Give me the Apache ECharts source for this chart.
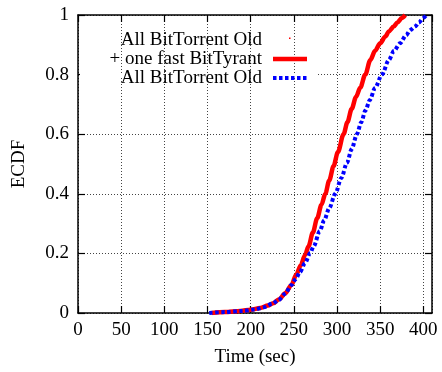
<!DOCTYPE html>
<html>
<head>
<meta charset="utf-8">
<script src="https://cdn.jsdelivr.net/npm/echarts@6/dist/echarts.min.js"></script>
<style>
html,body{margin:0;padding:0;background:#fff;}
#chart{width:442px;height:372px;}
</style>
</head>
<body>
<div id="chart"></div>
<script>
// Tick labels
const xTicks = [0, 50, 100, 150, 200, 250, 300, 350, 400];
const yTicks = [0, 0.2, 0.4, 0.6, 0.8, 1];

// Legend labels
const legendLabels = ["All BitTorrent Old", "+ one fast BitTyrant", "All BitTorrent Old"];

// Series: All BitTorrent Old + one fast BitTyrant (red)
const tyrantTime = [155, 170, 188, 200, 211, 220, 226, 233, 240, 247, 253, 258, 263, 267, 272, 277, 282, 286.4, 291, 296, 301, 307.6, 312, 317, 322, 327, 332.7, 338.6, 344, 350, 356, 360, 365.6, 370, 375, 379];
const tyrantEcdf = [0, 0.003, 0.007, 0.011, 0.017, 0.025, 0.033, 0.046, 0.066, 0.093, 0.13, 0.16, 0.195, 0.224, 0.27, 0.318, 0.363, 0.4, 0.445, 0.493, 0.54, 0.6, 0.64, 0.685, 0.725, 0.757, 0.8, 0.849, 0.88, 0.905, 0.928, 0.945, 0.961, 0.975, 0.99, 1.0];

// Series: All BitTorrent Old (blue)
const oldTime = [152, 170, 190, 205, 215, 225, 232, 240, 247, 252, 257, 263, 269, 273, 280, 285, 291, 298, 305, 311.5, 317, 323, 328, 333, 338, 344, 352, 360, 366, 373, 380, 385, 390.7, 395, 400, 403.5];
const oldEcdf = [0, 0.003, 0.007, 0.012, 0.019, 0.031, 0.043, 0.065, 0.093, 0.113, 0.137, 0.168, 0.202, 0.224, 0.275, 0.31, 0.352, 0.4, 0.453, 0.504, 0.55, 0.6, 0.64, 0.68, 0.715, 0.755, 0.8, 0.849, 0.88, 0.905, 0.932, 0.95, 0.962, 0.975, 0.99, 1.0];

const FONT = '"Liberation Serif", "Times New Roman", serif';
const chart = echarts.init(document.getElementById('chart'));

const axisLine = {show: true, onZero: false, lineStyle: {color: '#000', width: 1.5}};
const tick = {show: true, inside: true, length: 7, lineStyle: {color: '#000', width: 1.2}};
const grid = {show: true, lineStyle: {color: '#444', width: 1, type: [1, 2]}};

const xFmt = v => xTicks.indexOf(v) >= 0 ? String(v) : '';
const yFmt = v => {
  const t = yTicks.find(y => Math.abs(y - v) < 1e-9);
  return t === undefined ? '' : String(t);
};

chart.setOption({
  animation: false,
  backgroundColor: '#fff',
  grid: {left: 78, right: 10, top: 15, bottom: 58, containLabel: false},
  xAxis: [{
    type: 'value', min: 0, max: 410, interval: 50, position: 'bottom',
    name: 'Time (sec)', nameLocation: 'middle', nameGap: 35,
    nameTextStyle: {fontFamily: FONT, fontSize: 19, color: '#000'},
    axisLine: axisLine, axisTick: tick, splitLine: grid,
    axisLabel: {fontFamily: FONT, fontSize: 19, color: '#000', margin: 8, formatter: xFmt, showMaxLabel: false}
  }, {
    type: 'value', min: 0, max: 410, interval: 50, position: 'top',
    axisLine: axisLine, axisTick: tick, splitLine: {show: false}, axisLabel: {show: false}
  }],
  yAxis: [{
    type: 'value', min: 0, max: 1, interval: 0.2, position: 'left',
    name: 'ECDF', nameLocation: 'middle', nameGap: 49, nameRotate: 90,
    nameTextStyle: {fontFamily: FONT, fontSize: 19, color: '#000'},
    axisLine: axisLine, axisTick: tick, splitLine: grid,
    axisLabel: {fontFamily: FONT, fontSize: 19, color: '#000', margin: 9, formatter: yFmt}
  }, {
    type: 'value', min: 0, max: 1, interval: 0.2, position: 'right',
    axisLine: axisLine, axisTick: tick, splitLine: {show: false}, axisLabel: {show: false}
  }],
  graphic: [
    {type: 'rect', z: 1, shape: {x: 80, y: 73, width: 238, height: 4}, style: {fill: '#fff'}},
    {type: 'text', z: 10, x: 262, y: 40, style: {text: legendLabels[0], fill: '#000', font: '19px ' + FONT, textAlign: 'right', textVerticalAlign: 'middle'}},
    {type: 'text', z: 10, x: 262, y: 59, style: {text: legendLabels[1], fill: '#000', font: '19px ' + FONT, textAlign: 'right', textVerticalAlign: 'middle'}},
    {type: 'text', z: 10, x: 262, y: 78, style: {text: legendLabels[2], fill: '#000', font: '19px ' + FONT, textAlign: 'right', textVerticalAlign: 'middle'}},
    {type: 'rect', z: 10, shape: {x: 289, y: 37.5, width: 1.5, height: 1.5}, style: {fill: '#ff0000'}},
    {type: 'line', z: 10, shape: {x1: 273, y1: 59, x2: 307, y2: 59}, style: {stroke: '#ff0000', lineWidth: 4.5}},
    {type: 'line', z: 10, shape: {x1: 273, y1: 78, x2: 307, y2: 78}, style: {stroke: '#0000ff', lineWidth: 4, lineDash: [3.5, 2.5]}}
  ],
  series: [{
    name: legendLabels[1], type: 'line', xAxisIndex: 0, yAxisIndex: 0,
    data: tyrantTime.map((t, i) => [t, tyrantEcdf[i]]),
    showSymbol: false, symbol: 'none', z: 3, smooth: 0.3, smoothMonotone: 'x',
    lineStyle: {color: '#ff0000', width: 4.5}
  }, {
    name: legendLabels[2], type: 'line', xAxisIndex: 0, yAxisIndex: 0,
    data: oldTime.map((t, i) => [t, oldEcdf[i]]),
    showSymbol: false, symbol: 'none', z: 4, smooth: 0.3, smoothMonotone: 'x',
    lineStyle: {color: '#0000ff', width: 4, type: [3.5, 2.5]}
  }]
});
</script>
</body>
</html>
